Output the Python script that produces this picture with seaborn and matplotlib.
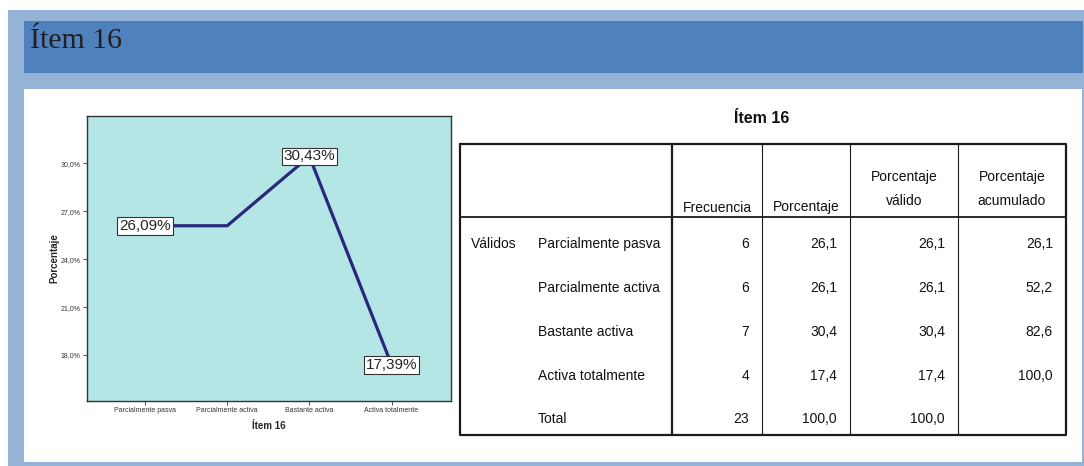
import numpy as np
import pandas as pd
import seaborn as sns
import matplotlib
matplotlib.use("Agg")
import matplotlib.pyplot as plt
from matplotlib import font_manager
from matplotlib.patches import Rectangle
from matplotlib.ticker import FuncFormatter

# Datos del item 16
categorias = ["Parcialmente pasva", "Parcialmente activa",
              "Bastante activa", "Activa totalmente"]
porcentajes = [26.09, 26.09, 30.43, 17.39]
etiquetas_idx = [0, 2, 3]  # puntos con etiqueta

# Tabla de frecuencias
filas = ["Parcialmente pasva", "Parcialmente activa", "Bastante activa",
         "Activa totalmente", "Total"]
frecuencia = [6, 6, 7, 4, 23]
porcentaje = [26.1, 26.1, 30.4, 17.4, 100.0]
porc_valido = [26.1, 26.1, 30.4, 17.4, 100.0]
porc_acumulado = [26.1, 52.2, 82.6, 100.0, None]
encabezados = ["Frecuencia", "Porcentaje", "Porcentaje\nválido",
               "Porcentaje\nacumulado"]

sns.set_style("white")
plt.rcParams['font.family'] = ['Liberation Sans', 'DejaVu Sans']

nombres = {f.name for f in font_manager.fontManager.ttflist}
if 'Liberation Sans Narrow' in nombres:
    fuente_tabla, tam_tabla = 'Liberation Sans Narrow', 12.3
else:
    fuente_tabla, tam_tabla = 'Liberation Sans', 10


def coma(v, dec=1):
    if v is None:
        return ""
    return f"{v:.{dec}f}".replace('.', ',')


W, H = 1084, 466
fig = plt.figure(figsize=(W / 100, H / 100), dpi=100, facecolor='white')

# fondo en coordenadas de pixel
bg = fig.add_axes([0, 0, 1, 1], zorder=0)
bg.set_xlim(0, W)
bg.set_ylim(H, 0)
bg.axis('off')
bg.add_patch(Rectangle((8, 10), W - 8, H - 10, color='#95b3d7', lw=0))
bg.add_patch(Rectangle((24, 21), 1059, 52, color='#4f81bd', lw=0))
bg.add_patch(Rectangle((24, 89), 1058, 373, color='white', lw=0))
bg.text(30, 48.5, "Ítem 16", family='Liberation Serif', fontsize=21.5,
        color='#231f20', va='baseline', ha='left')

# grafico de lineas
ax = fig.add_axes([86.7 / W, 1 - 401 / H, 364 / W, 285 / H], zorder=2)
df = pd.DataFrame({'cat': categorias, 'pct': porcentajes})
sns.lineplot(data=df, x='cat', y='pct', ax=ax, sort=False,
             color='#29287a', linewidth=2.3)
ax.set_facecolor('#b5e6e6')
ax.set_xlim(-0.71, 3.72)
ax.set_ylim(15.12, 32.96)
ax.set_yticks([18, 21, 24, 27, 30])
ax.yaxis.set_major_formatter(FuncFormatter(lambda v, p: coma(v) + "%"))
ax.tick_params(axis='both', labelsize=5, length=3, width=0.6,
               colors='#333333', pad=1.5)
ax.tick_params(axis='y', left=True)
ax.tick_params(axis='x', bottom=True)
for s in ax.spines.values():
    s.set_color('#333333')
    s.set_linewidth(1.0)
ax.set_xlabel("Ítem 16", fontsize=7, fontweight='bold', labelpad=5)
ax.set_ylabel("Porcentaje", fontsize=7, fontweight='bold', labelpad=1)

for i in etiquetas_idx:
    ax.text(i, porcentajes[i], coma(porcentajes[i], 2) + "%", fontsize=11,
            ha='center', va='center', zorder=5,
            bbox=dict(boxstyle='square,pad=0.12', fc='white',
                      ec='#333333', lw=0.8))

# tabla
bg.text(762, 123, "Ítem 16", family=fuente_tabla, fontsize=tam_tabla + 1.5,
        fontweight='bold', ha='center', va='baseline', color='#111111')

x_izq, x_der = 460, 1066
y_sup, y_enc, y_inf = 144, 216.7, 435
cols = [672, 762, 850, 958]
grueso, fino = 1.6, 0.8
lc = '#1a1a1a'
bg.plot([x_izq, x_der, x_der, x_izq, x_izq],
        [y_sup, y_sup, y_inf, y_inf, y_sup], color=lc, lw=grueso)
bg.plot([x_izq, x_der], [y_enc, y_enc], color=lc, lw=1.3)
bg.plot([cols[0], cols[0]], [y_sup, y_inf], color=lc, lw=grueso)
for c in cols[1:]:
    bg.plot([c, c], [y_sup, y_inf], color=lc, lw=fino)

bordes = cols + [x_der]
for j, enc in enumerate(encabezados):
    xc = (bordes[j] + bordes[j + 1]) / 2
    lineas = enc.split("\n")
    if len(lineas) == 1:
        bg.text(xc, 211.5, lineas[0], family=fuente_tabla, fontsize=tam_tabla,
                ha='center', va='baseline', color='#111111')
    else:
        bg.text(xc, 181, lineas[0], family=fuente_tabla, fontsize=tam_tabla,
                ha='center', va='baseline', color='#111111')
        bg.text(xc, 205, lineas[1], family=fuente_tabla, fontsize=tam_tabla,
                ha='center', va='baseline', color='#111111')

bases = [248, 292, 336, 380, 423]
bg.text(471, bases[0], "Válidos", family=fuente_tabla, fontsize=tam_tabla,
        ha='left', va='baseline', color='#111111')
columnas = [[str(v) for v in frecuencia],
            [coma(v) for v in porcentaje],
            [coma(v) for v in porc_valido],
            [coma(v) for v in porc_acumulado]]
for i, fila in enumerate(filas):
    bg.text(538, bases[i], fila, family=fuente_tabla, fontsize=tam_tabla,
            ha='left', va='baseline', color='#111111')
    for j, col in enumerate(columnas):
        bg.text(bordes[j + 1] - 13, bases[i], col[i], family=fuente_tabla,
                fontsize=tam_tabla, ha='right', va='baseline',
                color='#111111')

fig.savefig("out.png", dpi=100, facecolor='white')
